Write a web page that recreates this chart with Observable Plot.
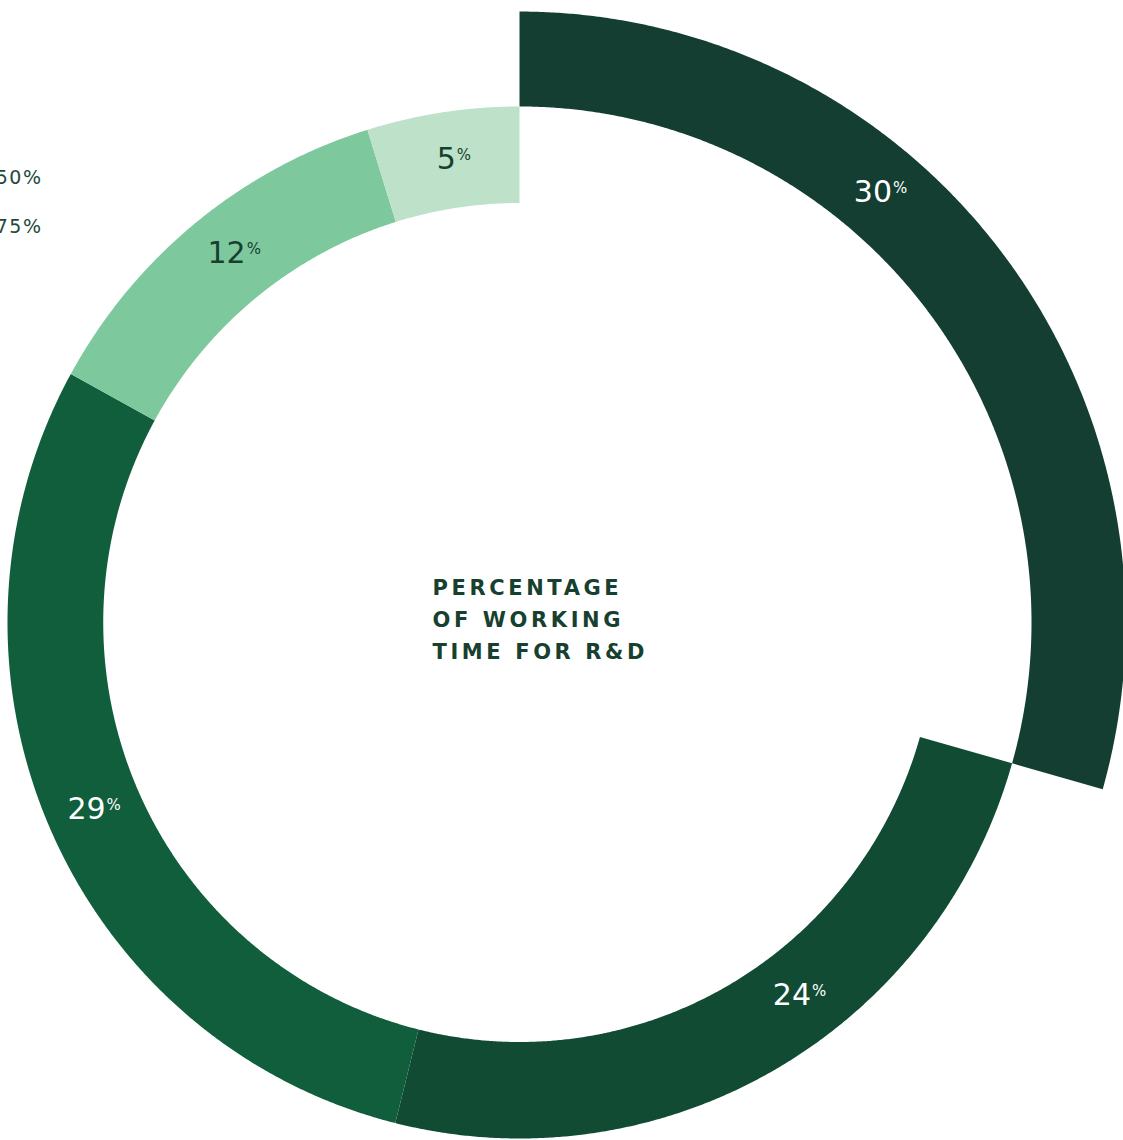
<!DOCTYPE html>
<html>
<head>
<meta charset="utf-8">
<script src="https://cdn.jsdelivr.net/npm/d3@7"></script>
<script src="https://cdn.jsdelivr.net/npm/@observablehq/plot@0.6"></script>
<style>
  html, body { margin: 0; padding: 0; background: #fff; }
  #chart svg { display: block; }
</style>
</head>
<body>
<div id="chart"></div>
<script>
// ---- data ----
const categories = ["A", "B", "C", "D", "E"];
const shares = [29.4, 24.5, 29.1, 12.2, 4.8];          // arc share of the ring (%)
const labels = ["30", "24", "29", "12", "5"];           // printed values
const colors = ["#133e31", "#114b34", "#115e3c", "#7dc99d", "#bde2c9"];
const labelColors = ["#ffffff", "#ffffff", "#ffffff", "#17402f", "#17402f"];
const centerTitle = ["PERCENTAGE", "OF WORKING", "TIME FOR R&D"];
const edgeLabels = ["50%", "75%"];

// ---- geometry (render config) ----
const W = 1123, H = 1140;
const cx = 519, cy = 622, kx = 512, ky = 516;   // pixel center & px per unit
const rIn = 0.813, rOut = 1.0, explodeOut = 1.184;
const labelFrac = [0.38, 0.42, 0.5, 0.53, 0.53];

const total = d3.sum(shares);
let acc = 0;
const segs = categories.map((c, i) => {
  const a0 = acc / total * 360;
  acc += shares[i];
  const a1 = acc / total * 360;
  const exploded = i === 0;
  return {c, i, a0, a1, r0: exploded ? rOut : rIn, r1: exploded ? explodeOut : rOut};
});

const rad = a => a * Math.PI / 180;
const pts = [];
for (const s of segs) {
  const n = Math.max(8, Math.ceil((s.a1 - s.a0) * 4));
  for (let k = 0; k <= n; k++) {
    const a = s.a0 + (s.a1 - s.a0) * k / n;
    pts.push({c: s.c, x: s.r1 * Math.sin(rad(a)), y: s.r1 * Math.cos(rad(a))});
  }
  for (let k = n; k >= 0; k--) {
    const a = s.a0 + (s.a1 - s.a0) * k / n;
    pts.push({c: s.c, x: s.r0 * Math.sin(rad(a)), y: s.r0 * Math.cos(rad(a))});
  }
}

const labelData = segs.map((s, i) => {
  const a = s.a0 + (s.a1 - s.a0) * labelFrac[i];
  const r = (s.r0 + s.r1) / 2;
  return {x: r * Math.sin(rad(a)), y: r * Math.cos(rad(a)), text: labels[i], color: labelColors[i]};
});

const FONT = "'DejaVu Sans', Inter, sans-serif";

const plot = Plot.plot({
  width: W, height: H,
  margin: 0,
  x: {domain: [-cx / kx, (W - cx) / kx], range: [0, W], axis: null},
  y: {domain: [-(H - cy) / ky, cy / ky], range: [H, 0], axis: null},
  color: {type: "ordinal", domain: categories, range: colors},
  style: {fontFamily: FONT, background: "#fff"},
  marks: [
    Plot.line(pts, {x: "x", y: "y", z: "c", fill: "c", stroke: "none", curve: "linear"}),
    Plot.text(labelData, {
      x: "x", y: "y", text: "text", fill: "color",
      fontSize: 30, fontWeight: 400, textAnchor: "middle", lineAnchor: "middle"
    }),
    Plot.text([centerTitle.join("\n")], {
      x: 0, y: 0, text: d => d, fill: "#17402f",
      fontSize: 21, fontWeight: 700, textAnchor: "start", lineAnchor: "middle",
      lineHeight: 1.52, dx: -87, dy: -6
    }),
    Plot.text(edgeLabels, {
      frameAnchor: "top-left", text: d => d, fill: "#1d4a3b",
      fontSize: 19, fontWeight: 400, textAnchor: "end", lineAnchor: "bottom"
    })
  ]
});

// post-process: superscript %, letter spacing, edge label offsets
const textGroups = Array.from(plot.querySelectorAll("g")).filter(g => g.querySelector(":scope > text"));
const [pctG, titleG, edgeG] = textGroups;
pctG.querySelectorAll("text").forEach(t => {
  const ts = document.createElementNS("http://www.w3.org/2000/svg", "tspan");
  ts.textContent = "%";
  ts.setAttribute("font-size", 15);
  ts.setAttribute("dy", "-0.6em");
  ts.setAttribute("dx", "1");
  t.appendChild(ts);
});
titleG.querySelectorAll("text").forEach(t => {
  t.setAttribute("letter-spacing", "3.6");
});
const edgeY = [183, 232];
edgeG.querySelectorAll("text").forEach((t, i) => {
  t.setAttribute("letter-spacing", "1.5");
  t.setAttribute("transform", `translate(42,${edgeY[i]})`);
  t.removeAttribute("dy");
});
document.getElementById("chart").appendChild(plot);
</script>
</body>
</html>
